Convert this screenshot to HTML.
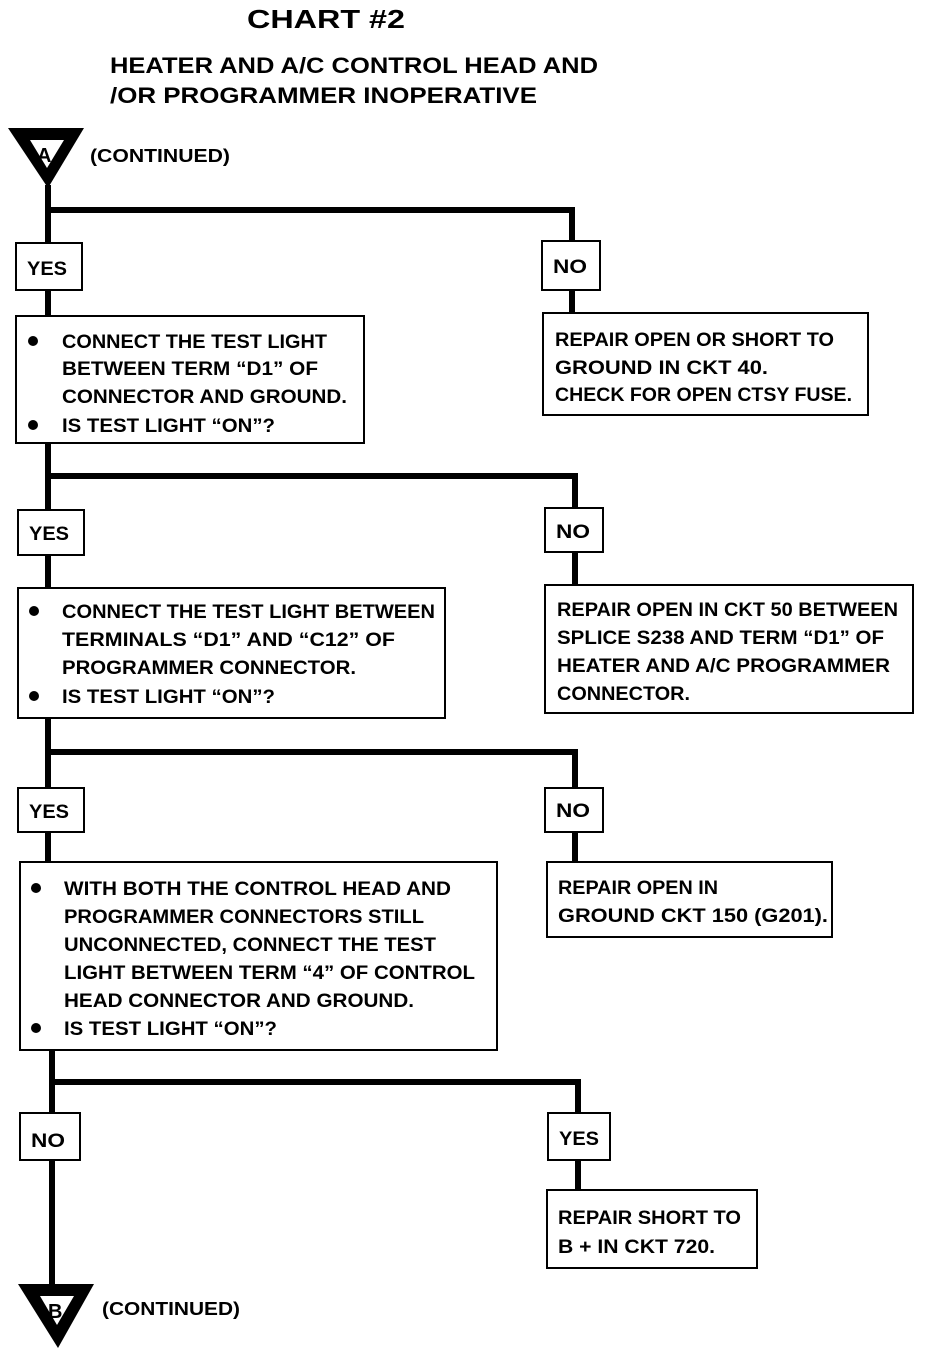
<!DOCTYPE html>
<html><head><meta charset="utf-8"><style>
html,body{margin:0;padding:0;background:#fff;}
svg{display:block;}
text{font-family:"Liberation Sans",sans-serif;font-weight:bold;fill:#000;}
</style></head><body>
<svg width="928" height="1352" viewBox="0 0 928 1352" xmlns="http://www.w3.org/2000/svg">
<g font-size="26">
<text x="247" y="28" textLength="158" lengthAdjust="spacingAndGlyphs">CHART #2</text>
</g>
<g font-size="22">
<text x="110" y="73" textLength="488" lengthAdjust="spacingAndGlyphs">HEATER AND A/C CONTROL HEAD AND</text>
<text x="110" y="103" textLength="427" lengthAdjust="spacingAndGlyphs">/OR PROGRAMMER INOPERATIVE</text>
</g>
<!-- triangle A -->
<polygon points="8,128 84,128 48,188" fill="#000"/>
<polygon points="30,140 64,140 47,168" fill="#fff"/>
<text x="37" y="162" font-size="20">A</text>
<text x="90" y="162" font-size="18" textLength="140" lengthAdjust="spacingAndGlyphs">(CONTINUED)</text>
<g stroke="#000" stroke-width="6" fill="none">
<!-- main vertical -->
<line x1="48" y1="185" x2="48" y2="316"/>
<polyline points="48,210 572,210 572,242"/>
<line x1="572" y1="290" x2="572" y2="314"/>
<line x1="48" y1="443" x2="48" y2="590"/>
<polyline points="48,476 575,476 575,510"/>
<line x1="575" y1="552" x2="575" y2="586"/>
<line x1="48" y1="718" x2="48" y2="864"/>
<polyline points="48,752 575,752 575,790"/>
<line x1="575" y1="832" x2="575" y2="864"/>
<line x1="52" y1="1050" x2="52" y2="1288"/>
<polyline points="52,1082 578,1082 578,1115"/>
<line x1="578" y1="1160" x2="578" y2="1192"/>
</g>
<g stroke="#000" stroke-width="2" fill="#fff">
<rect x="16" y="243" width="66" height="47"/>
<rect x="542" y="241" width="58" height="49"/>
<rect x="16" y="316" width="348" height="127"/>
<rect x="543" y="313" width="325" height="102"/>
<rect x="18" y="510" width="66" height="45"/>
<rect x="545" y="508" width="58" height="44"/>
<rect x="18" y="588" width="427" height="130"/>
<rect x="545" y="585" width="368" height="128"/>
<rect x="18" y="788" width="66" height="44"/>
<rect x="545" y="788" width="58" height="44"/>
<rect x="20" y="862" width="477" height="188"/>
<rect x="547" y="862" width="285" height="75"/>
<rect x="20" y="1113" width="60" height="47"/>
<rect x="548" y="1113" width="62" height="47"/>
<rect x="547" y="1190" width="210" height="78"/>
</g>
<g font-size="19">
<text x="27" y="275" textLength="40" lengthAdjust="spacingAndGlyphs">YES</text>
<text x="553" y="273" textLength="34" lengthAdjust="spacingAndGlyphs">NO</text>
<text x="29" y="540" textLength="40" lengthAdjust="spacingAndGlyphs">YES</text>
<text x="556" y="538" textLength="34" lengthAdjust="spacingAndGlyphs">NO</text>
<text x="29" y="818" textLength="40" lengthAdjust="spacingAndGlyphs">YES</text>
<text x="556" y="817" textLength="34" lengthAdjust="spacingAndGlyphs">NO</text>
<text x="31" y="1147" textLength="34" lengthAdjust="spacingAndGlyphs">NO</text>
<text x="559" y="1145" textLength="40" lengthAdjust="spacingAndGlyphs">YES</text>

<text x="62" y="348" textLength="265" lengthAdjust="spacingAndGlyphs">CONNECT THE TEST LIGHT</text>
<text x="62" y="375" textLength="256" lengthAdjust="spacingAndGlyphs">BETWEEN TERM “D1” OF</text>
<text x="62" y="403" textLength="285" lengthAdjust="spacingAndGlyphs">CONNECTOR AND GROUND.</text>
<text x="62" y="432" textLength="213" lengthAdjust="spacingAndGlyphs">IS TEST LIGHT “ON”?</text>

<text x="555" y="346" textLength="279" lengthAdjust="spacingAndGlyphs">REPAIR OPEN OR SHORT TO</text>
<text x="555" y="374" textLength="213" lengthAdjust="spacingAndGlyphs">GROUND IN CKT 40.</text>
<text x="555" y="401" textLength="297" lengthAdjust="spacingAndGlyphs">CHECK FOR OPEN CTSY FUSE.</text>

<text x="62" y="618" textLength="373" lengthAdjust="spacingAndGlyphs">CONNECT THE TEST LIGHT BETWEEN</text>
<text x="62" y="646" textLength="333" lengthAdjust="spacingAndGlyphs">TERMINALS “D1” AND “C12” OF</text>
<text x="62" y="674" textLength="294" lengthAdjust="spacingAndGlyphs">PROGRAMMER CONNECTOR.</text>
<text x="62" y="703" textLength="213" lengthAdjust="spacingAndGlyphs">IS TEST LIGHT “ON”?</text>

<text x="557" y="616" textLength="341" lengthAdjust="spacingAndGlyphs">REPAIR OPEN IN CKT 50 BETWEEN</text>
<text x="557" y="644" textLength="327" lengthAdjust="spacingAndGlyphs">SPLICE S238 AND TERM “D1” OF</text>
<text x="557" y="672" textLength="333" lengthAdjust="spacingAndGlyphs">HEATER AND A/C PROGRAMMER</text>
<text x="557" y="700" textLength="133" lengthAdjust="spacingAndGlyphs">CONNECTOR.</text>

<text x="64" y="895" textLength="387" lengthAdjust="spacingAndGlyphs">WITH BOTH THE CONTROL HEAD AND</text>
<text x="64" y="923" textLength="360" lengthAdjust="spacingAndGlyphs">PROGRAMMER CONNECTORS STILL</text>
<text x="64" y="951" textLength="372" lengthAdjust="spacingAndGlyphs">UNCONNECTED, CONNECT THE TEST</text>
<text x="64" y="979" textLength="411" lengthAdjust="spacingAndGlyphs">LIGHT BETWEEN TERM “4” OF CONTROL</text>
<text x="64" y="1007" textLength="350" lengthAdjust="spacingAndGlyphs">HEAD CONNECTOR AND GROUND.</text>
<text x="64" y="1035" textLength="213" lengthAdjust="spacingAndGlyphs">IS TEST LIGHT “ON”?</text>

<text x="558" y="894" textLength="160" lengthAdjust="spacingAndGlyphs">REPAIR OPEN IN</text>
<text x="558" y="922" textLength="270" lengthAdjust="spacingAndGlyphs">GROUND CKT 150 (G201).</text>

<text x="558" y="1224" textLength="183" lengthAdjust="spacingAndGlyphs">REPAIR SHORT TO</text>
<text x="558" y="1253" textLength="157" lengthAdjust="spacingAndGlyphs">B + IN CKT 720.</text>
</g>
<g fill="#000">
<circle cx="33" cy="341" r="5"/>
<circle cx="33" cy="425" r="5"/>
<circle cx="34" cy="611" r="5"/>
<circle cx="34" cy="696" r="5"/>
<circle cx="36" cy="888" r="5"/>
<circle cx="36" cy="1028" r="5"/>
</g>
<!-- triangle B -->
<polygon points="18,1284 94,1284 58,1348" fill="#000"/>
<polygon points="40,1296 74,1296 57,1325" fill="#fff"/>
<text x="48" y="1318" font-size="20">B</text>
<text x="102" y="1315" font-size="18" textLength="138" lengthAdjust="spacingAndGlyphs">(CONTINUED)</text>
</svg>
</body></html>
